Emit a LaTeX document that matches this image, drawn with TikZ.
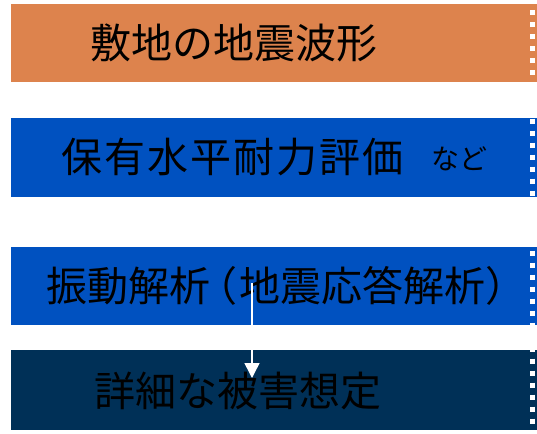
\documentclass[tikz,border=0pt]{standalone}
\usepackage{fontspec}
\newfontfamily\jpfont{Noto Sans CJK JP}
\usetikzlibrary{arrows.meta}
\definecolor{barorange}{RGB}{221,131,77}
\definecolor{barblue}{RGB}{0,81,192}
\definecolor{barnavy}{RGB}{0,48,87}
\newcommand{\cjkgap}{\kern2pt}
\tikzset{
  barbox/.style={draw=none, inner sep=0pt, outer sep=0pt, minimum width=526pt, anchor=north west},
  bigtext/.style={font=\jpfont\fontsize{41}{41}\selectfont, text=black, inner sep=0pt, anchor=west},
  smalltext/.style={font=\jpfont\fontsize{28}{28}\selectfont, text=black, inner sep=0pt, anchor=west},
  flowarrow/.style={draw=white, line width=1.5pt, -{Triangle[length=15pt,width=15pt]}},
  edgedots/.style={draw=white, line width=5pt, dash pattern=on 5pt off 7pt}
}
\begin{document}
\begin{tikzpicture}[x=1pt,y=-1pt]
\useasboundingbox (0,0) rectangle (537,433);
\fill[white] (0,0) rectangle (537,433);
% bars
\node[barbox, fill=barorange, minimum height=78pt] (bar1) at (11,4) {};
\node[barbox, fill=barblue, minimum height=79pt] (bar2) at (11,118) {};
\node[barbox, fill=barblue, minimum height=78pt] (bar3) at (11,247) {};
\node[barbox, fill=barnavy, minimum height=80pt] (bar4) at (11,350) {};
% dotted right edge
\coordinate (dtop) at (532.5,-1.5);
\coordinate (dbot) at (532.5,433);
\draw[edgedots] (dtop) -- (dbot);
% texts
\node[bigtext] (t1) at (90,43) {敷地の地震波形};
\node[bigtext] (t2) at (61,157) {保\cjkgap 有\cjkgap 水\cjkgap 平\cjkgap 耐\cjkgap 力\cjkgap 評\cjkgap 価};
\node[smalltext] (t2b) at (431,159) {など};
\node[bigtext] (t3) at (46,286) {振動解析\kern-14pt（\kern2pt 地震応答解析）};
\node[bigtext] (t4) at (94,391) {詳細な被害想定};
% arrow
\coordinate (astart) at (252,283);
\coordinate (aend) at (252,378);
\draw[flowarrow] (astart) -- (aend);
\end{tikzpicture}
\end{document}
